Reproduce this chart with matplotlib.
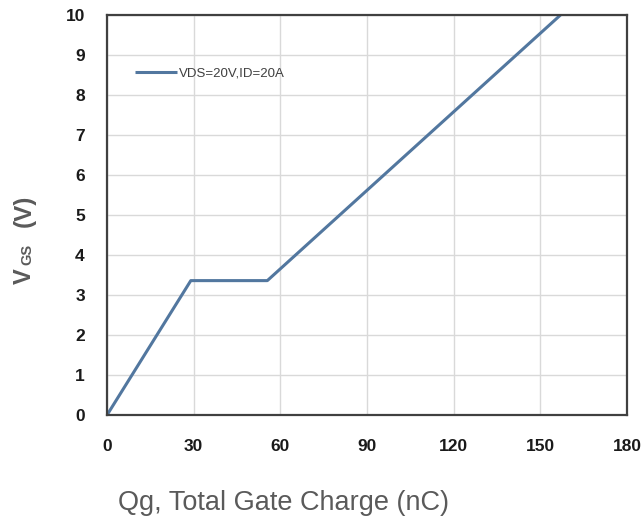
import matplotlib
matplotlib.use("Agg")
import matplotlib.pyplot as plt

# gate charge curve
qg = [0, 29, 55.5, 157]
vgs = [0, 3.36, 3.36, 10]
series_label = "VDS=20V,ID=20A"

xticks = [0, 30, 60, 90, 120, 150, 180]
yticks = list(range(0, 11))

plt.rcParams['font.family'] = ['Liberation Sans', 'DejaVu Sans']

fig = plt.figure(figsize=(6.41, 5.27), dpi=100)
ax = fig.add_axes([0.167, 0.2125, 0.811, 0.759])

ax.plot(qg, vgs, color="#52779f", lw=2.2, label=series_label, solid_capstyle="butt")

ax.set_xlim(0, 180)
ax.set_ylim(0, 10)
ax.set_xticks(xticks)
ax.set_yticks(yticks)
ax.grid(True, color="#d9d9d9", lw=1)
ax.set_axisbelow(True)
ax.tick_params(length=0, labelsize=12.5)
ax.tick_params(axis="x", pad=17)
ax.tick_params(axis="y", pad=16)
for lbl in ax.get_xticklabels() + ax.get_yticklabels():
    lbl.set_fontweight("bold")
    lbl.set_color("#1a1a1a")
for s in ax.spines.values():
    s.set_color("#404040")
    s.set_linewidth(1.6)

leg = ax.legend(loc="upper left", bbox_to_anchor=(0.03, 0.9), frameon=False,
                handlelength=3.2, handletextpad=0.2, fontsize=9.5)
for t in leg.get_texts():
    t.set_color("#404040")

# axis titles
grey = "#5a5a5a"
fig.text(283 / 641, 1 - 503 / 527, "Qg, Total Gate Charge (nC)", ha="center", va="center",
         fontsize=19.5, color=grey)
fig.text(24 / 641, 1 - 276 / 527, "V", ha="center", va="center", rotation=90,
         fontsize=17, color=grey, fontweight="bold")
fig.text(27.5 / 641, 1 - 254 / 527, "GS", ha="center", va="center", rotation=90,
         fontsize=10.5, color=grey, fontweight="bold")
fig.text(24 / 641, 1 - 211 / 527, "(V)", ha="center", va="center", rotation=90,
         fontsize=17.5, color=grey, fontweight="bold")

fig.savefig("out.png", dpi=100)
